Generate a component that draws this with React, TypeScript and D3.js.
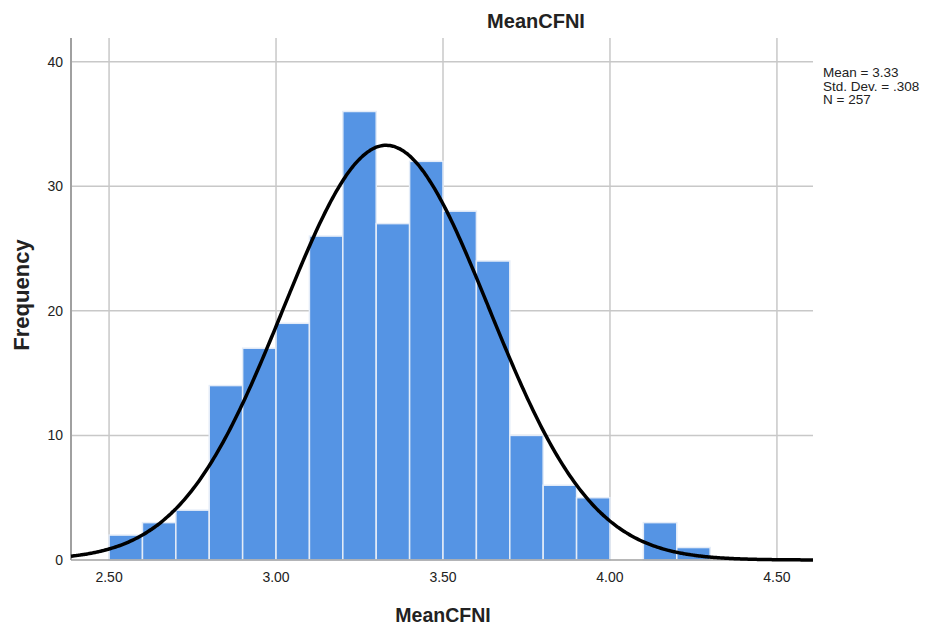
import * as d3 from "d3";

// bin edges (width 0.1) and frequency per bin
const binStarts = [2.5, 2.6, 2.7, 2.8, 2.9, 3.0, 3.1, 3.2, 3.3, 3.4, 3.5, 3.6, 3.7, 3.8, 3.9, 4.0, 4.1, 4.2];
const counts = [2, 3, 4, 14, 17, 19, 26, 36, 27, 32, 28, 24, 10, 6, 5, 0, 3, 1];
const binWidth = 0.1;

const xTicks = [2.5, 3.0, 3.5, 4.0, 4.5];
const yTicks = [0, 10, 20, 30, 40];

const stats = { mean: 3.33, sd: 0.308, n: 257 };
const statLines = ["Mean = 3.33", "Std. Dev. = .308", "N = 257"];

const W = 926;
const H = 627;
const margin = { top: 38, right: 113, bottom: 67, left: 71 };

export default function App() {
  const innerW = W - margin.left - margin.right;
  const innerH = H - margin.top - margin.bottom;

  const x = d3.scaleLinear().domain([2.386, 4.608]).range([0, innerW]);
  const y = d3.scaleLinear().domain([0, 41.9]).range([innerH, 0]);

  // fitted normal curve scaled to counts
  const scale = stats.n * binWidth;
  const pdf = (v: number) =>
    (Math.exp(-0.5 * ((v - stats.mean) / stats.sd) ** 2) / (stats.sd * Math.sqrt(2 * Math.PI))) * scale;
  const curvePts = d3.range(0, 401).map((i) => {
    const v = x.domain()[0] + ((x.domain()[1] - x.domain()[0]) * i) / 400;
    return [v, pdf(v)] as [number, number];
  });
  const line = d3
    .line<[number, number]>()
    .x((d) => x(d[0]))
    .y((d) => y(d[1]))
    .curve(d3.curveBasis);

  const font = "'Liberation Sans', Arial, sans-serif";

  return (
    <svg
      width={W}
      height={H}
      style={{ position: "absolute", left: 0, top: 0, background: "#fff" }}
      fontFamily={font}
    >
      <text x={536} y={28} textAnchor="middle" fontSize={20} fontWeight="bold" fill="#222">
        MeanCFNI
      </text>

      <g transform={`translate(${margin.left},${margin.top})`}>
        {/* grid */}
        {yTicks.slice(1).map((t) => (
          <line key={"gy" + t} x1={0} x2={innerW} y1={y(t)} y2={y(t)} stroke="#c8c8c8" strokeWidth={1.5} />
        ))}
        {xTicks.map((t) => (
          <line key={"gx" + t} x1={x(t)} x2={x(t)} y1={0} y2={innerH} stroke="#c8c8c8" strokeWidth={1.5} />
        ))}

        {/* bars */}
        {binStarts.map((b, i) =>
          counts[i] > 0 ? (
            <rect
              key={"b" + i}
              x={x(b)}
              y={y(counts[i])}
              width={x(b + binWidth) - x(b)}
              height={y(0) - y(counts[i])}
              fill="#5594e4"
              stroke="#e4ecf8"
              strokeWidth={1.5}
            />
          ) : null
        )}

        {/* axes */}
        <line x1={0} x2={innerW} y1={innerH} y2={innerH} stroke="#a0a0a0" strokeWidth={1.5} />
        <line x1={0} x2={0} y1={0} y2={innerH} stroke="#a0a0a0" strokeWidth={2} />

        {/* normal curve */}
        <path d={line(curvePts) ?? ""} fill="none" stroke="#000" strokeWidth={3.5} />

        {yTicks.map((t) => (
          <text key={"ty" + t} x={-8} y={y(t)} dy="0.35em" textAnchor="end" fontSize={14} fill="#222">
            {t}
          </text>
        ))}
        {xTicks.map((t) => (
          <text key={"tx" + t} x={x(t)} y={innerH + 22} textAnchor="middle" fontSize={14} fill="#222">
            {t.toFixed(2)}
          </text>
        ))}

        <text x={innerW / 2 + 1} y={innerH + 62} textAnchor="middle" fontSize={19.5} fontWeight="bold" fill="#222">
          MeanCFNI
        </text>
        <text
          transform={`translate(${-42},${innerH / 2 - 4}) rotate(-90)`}
          textAnchor="middle"
          fontSize={22}
          fontWeight="bold"
          fill="#222"
        >
          Frequency
        </text>

        {statLines.map((s, i) => (
          <text key={s} x={innerW + 10} y={39 + i * 13.5} fontSize={13.5} fill="#222">
            {s}
          </text>
        ))}
      </g>
    </svg>
  );
}
